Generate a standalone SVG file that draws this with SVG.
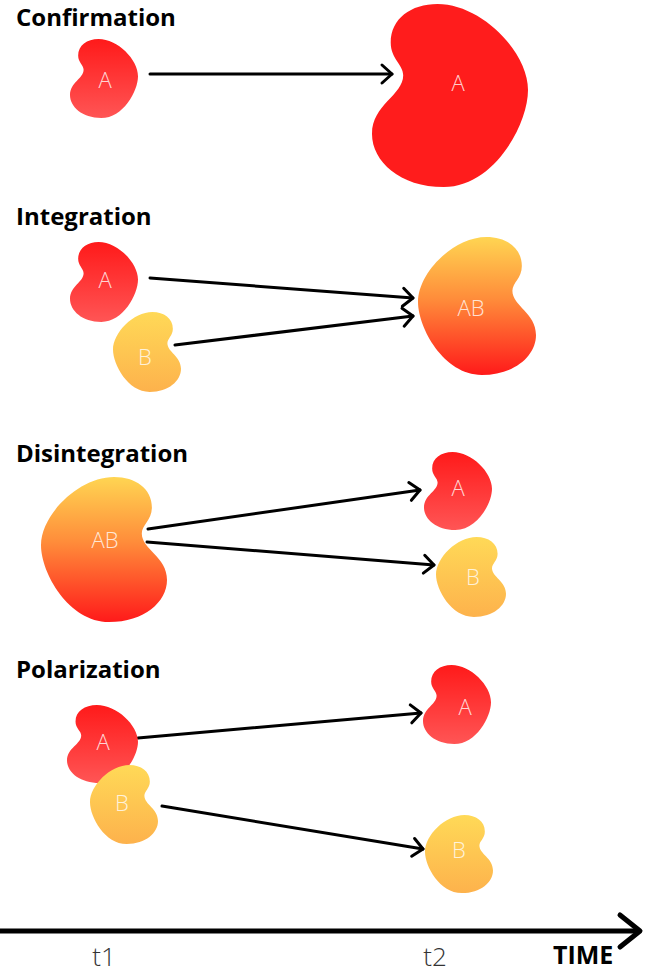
<svg xmlns="http://www.w3.org/2000/svg" xmlns:xlink="http://www.w3.org/1999/xlink" width="645" height="973" viewBox="0 0 645 973">
<style>
.title{font-family:"Open Sans","Liberation Sans",sans-serif;font-weight:700;font-size:24px;fill:#000}
.lbl{font-family:"Open Sans","Lato","Liberation Sans",sans-serif;font-weight:300;font-size:22px;fill:#fff;fill-opacity:0.8;text-anchor:middle}
.tick{font-family:"Open Sans","Liberation Sans",sans-serif;font-weight:300;font-size:26px;fill:#333;text-anchor:middle}
.conn{stroke:#000;stroke-width:3;fill:none;stroke-linecap:round;marker-end:url(#ah)}
</style>
<defs>
<path id="kid" d="M42 0C70 0 100 26 100 47C100 66 78 100 46 100C18 100 0 86 0 71C0 55 20 50 20 39C20 33 12 30 12 21C12 8 25 0 42 0Z"/>
<linearGradient id="gRed" x1="0" y1="0" x2="0" y2="1"><stop offset="0" stop-color="#ff1a1a"/><stop offset="1" stop-color="#ff5555"/></linearGradient>
<linearGradient id="gYel" x1="0" y1="0" x2="0" y2="1"><stop offset="0" stop-color="#ffd957"/><stop offset="1" stop-color="#fdb24c"/></linearGradient>
<linearGradient id="gAB" x1="0" y1="0" x2="0" y2="1"><stop offset="0" stop-color="#ffd552"/><stop offset="0.45" stop-color="#ff8c3a"/><stop offset="1" stop-color="#ff1a1a"/></linearGradient>
<marker id="ah" markerUnits="userSpaceOnUse" markerWidth="30" markerHeight="30" refX="0" refY="0" viewBox="-15 -15 30 30" orient="auto" overflow="visible"><path d="M-10 -9L0 0L-10 9" fill="none" stroke="#000" stroke-width="3" stroke-linecap="round" stroke-linejoin="round"/></marker>
</defs>
<rect width="645" height="973" fill="#fff"/>
<g id="titles">
<text class="title" x="16" y="26">Confirmation</text>
<text class="title" x="16" y="225">Integration</text>
<text class="title" x="16" y="462">Disintegration</text>
<text class="title" x="16" y="678">Polarization</text>
</g>
<g id="connectors">
<line class="conn" x1="150" y1="74" x2="392" y2="74"/>
<line class="conn" x1="150" y1="278" x2="413" y2="298"/>
<line class="conn" x1="175" y1="345" x2="413" y2="316"/>
<line class="conn" x1="148" y1="529" x2="420" y2="490"/>
<line class="conn" x1="147" y1="542" x2="434" y2="565"/>
<line class="conn" x1="138" y1="738" x2="421" y2="713"/>
<line class="conn" x1="162" y1="806" x2="423" y2="849"/>
</g>
<g id="conf-a1"><use xlink:href="#kid" href="#kid" fill="url(#gRed)" transform="translate(70,39) scale(0.68,0.79)"/><text class="lbl" x="105" y="88">A</text></g>
<g id="conf-a2"><use xlink:href="#kid" href="#kid" fill="#ff1c1c" transform="translate(372,4) scale(1.56,1.83)"/><text class="lbl" x="458" y="91">A</text></g>
<g id="int-a"><use xlink:href="#kid" href="#kid" fill="url(#gRed)" transform="translate(70,242) scale(0.68,0.80)"/><text class="lbl" x="105" y="288">A</text></g>
<g id="int-b"><use xlink:href="#kid" href="#kid" fill="url(#gYel)" transform="translate(181,312) scale(-0.68,0.80)"/><text class="lbl" x="145" y="365">B</text></g>
<g id="int-ab"><use xlink:href="#kid" href="#kid" fill="url(#gAB)" transform="translate(536,237) scale(-1.18,1.38)"/><text class="lbl" x="471" y="316">AB</text></g>
<g id="dis-ab"><use xlink:href="#kid" href="#kid" fill="url(#gAB)" transform="translate(167,477) scale(-1.26,1.45)"/><text class="lbl" x="105" y="548">AB</text></g>
<g id="dis-a"><use xlink:href="#kid" href="#kid" fill="url(#gRed)" transform="translate(424,452) scale(0.68,0.78)"/><text class="lbl" x="458" y="496">A</text></g>
<g id="dis-b"><use xlink:href="#kid" href="#kid" fill="url(#gYel)" transform="translate(506,537) scale(-0.70,0.80)"/><text class="lbl" x="473" y="585">B</text></g>
<g id="pol-a1"><use xlink:href="#kid" href="#kid" fill="url(#gRed)" transform="translate(67,705) scale(0.71,0.78)"/><text class="lbl" x="103" y="750">A</text></g>
<g id="pol-b1"><use xlink:href="#kid" href="#kid" fill="url(#gYel)" transform="translate(158,765) scale(-0.68,0.79)"/><text class="lbl" x="122" y="811">B</text></g>
<g id="pol-a2"><use xlink:href="#kid" href="#kid" fill="url(#gRed)" transform="translate(423,665) scale(0.68,0.79)"/><text class="lbl" x="465" y="715">A</text></g>
<g id="pol-b2"><use xlink:href="#kid" href="#kid" fill="url(#gYel)" transform="translate(493,815) scale(-0.68,0.78)"/><text class="lbl" x="459" y="858">B</text></g>
<g id="axis">
<line x1="0" y1="931" x2="638" y2="931" stroke="#000" stroke-width="5"/>
<path d="M620 915L640 931L620 947" fill="none" stroke="#000" stroke-width="5" stroke-linecap="round" stroke-linejoin="round"/>
<text class="tick" x="104" y="966">t1</text>
<text class="tick" x="435" y="966">t2</text>
<text class="title" x="553" y="964" style="font-size:25px">TIME</text>
</g>
</svg>
